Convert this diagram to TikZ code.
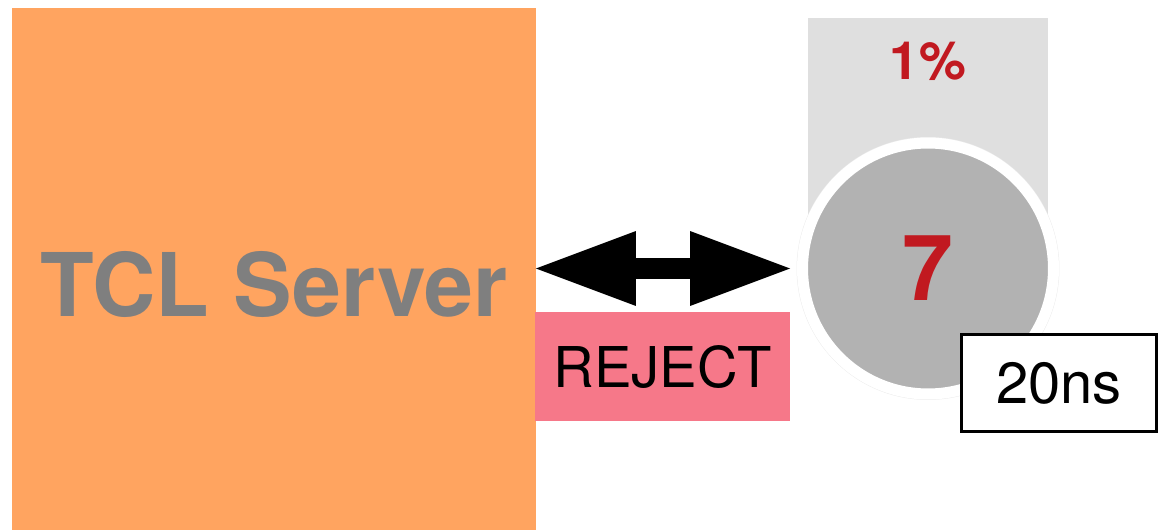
\documentclass[tikz,border=0pt]{standalone}
\usepackage{fontspec}
\setmainfont{TeX Gyre Heros}
\usetikzlibrary{arrows.meta}
\definecolor{serverorange}{RGB}{255,164,96}
\definecolor{rejectpink}{RGB}{246,120,137}
\definecolor{statred}{RGB}{193,25,32}
\definecolor{labelgray}{RGB}{127,127,127}

\begin{document}
\begin{tikzpicture}[x = 0.02cm, y = -0.02cm]
\tikzstyle{ServerStyle}=[shape = rectangle, fill = serverorange,
                         inner sep = 0pt, outer sep = 0pt,
                         minimum width = 10.48cm, minimum height = 11.04cm,
                         text = labelgray, font = \fontsize{50}{60}\selectfont\bfseries]
\tikzstyle{RejectStyle}=[shape = rectangle, fill = rejectpink, inner sep = 0pt,
                         minimum width = 5.1cm, minimum height = 2.18cm,
                         font = \fontsize{32}{40}\selectfont]
\tikzstyle{PanelStyle}=[shape = rectangle, fill = gray!25, inner sep = 0pt,
                        minimum width = 4.8cm, minimum height = 5cm]
\tikzstyle{StatStyle}=[text = statred, inner sep = 0pt]
\tikzstyle{RingStyle}=[shape = circle, fill = gray!60, draw = white,
                       line width = 0.22cm, minimum size = 5.02cm, inner sep = 0pt]
\tikzstyle{LatencyStyle}=[shape = rectangle, fill = white, draw = black,
                          line width = 0.06cm, inner sep = 0pt,
                          minimum width = 3.9cm, minimum height = 1.94cm,
                          font = \fontsize{33}{40}\selectfont]
\tikzstyle{BothWays}=[line width = 0.44cm,
                      {Triangle[length = 2cm, width = 1.5cm, line width = 0pt]}-{Triangle[length = 2cm, width = 1.5cm, line width = 0pt]}]
\useasboundingbox (0, 0) rectangle (1165, 530);
\node[ServerStyle] (server) at (274, 284) {TCL Server};
\node[PanelStyle, anchor = north] (panel) at (928, 18) {};
\node[StatStyle, font = \fontsize{30}{36}\selectfont\bfseries] (share) at (928, 61) {1\%};
\draw[black!7, line width = 0.02cm] (928, 268.5) circle (2.62cm);
\node[RingStyle, StatStyle, font = \fontsize{52}{60}\selectfont\bfseries] (count) at (928, 268.5) {7};
\node[RejectStyle, anchor = north west] (reject) at (535, 312) {REJECT};
\node[LatencyStyle] (latency) at (1059, 383) {20ns};
\draw[BothWays, shorten > = 0.14cm] (count.west -| server.east) -- (count.west);
\end{tikzpicture}
\end{document}
